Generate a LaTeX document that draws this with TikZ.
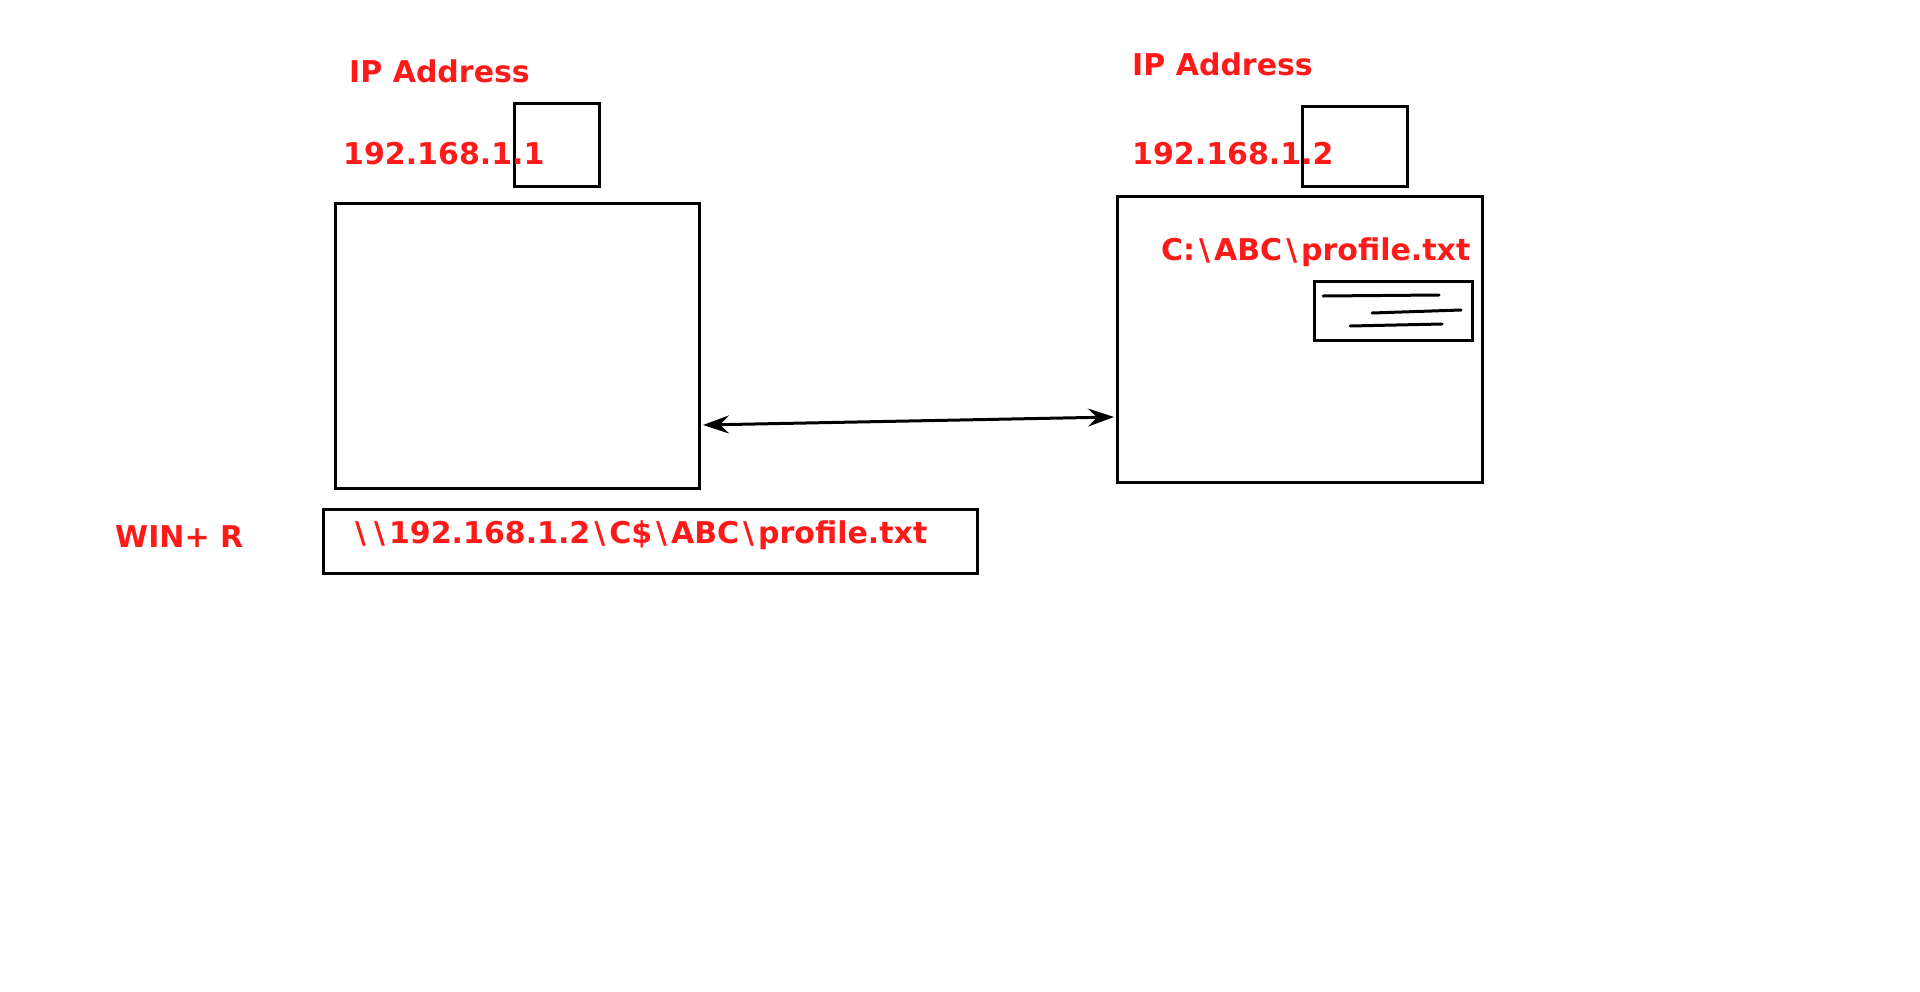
\documentclass[tikz,border=0pt]{standalone}
\usepackage{fontspec}
\setmainfont{DejaVu Sans}
\usepackage{tikz}
\usetikzlibrary{arrows.meta,positioning}
\definecolor{labelred}{RGB}{255,26,26}
\newcommand{\bsl}{\kern4pt\textbackslash\kern4pt}

\begin{document}
\begin{tikzpicture}[x=1pt,y=-1pt]%
                    \useasboundingbox (0,0) rectangle (1920,991); %%
                    \tikzstyle{box}=[draw,line width=3pt,inner sep=0pt]; %%
                    \tikzstyle{lbl}=[text=labelred,font=\fontsize{30}{36}\selectfont\bfseries,inner sep=0pt,anchor=base west]; %%
                    \begin{scope}
                        \tikzstyle{every node}=[box]; %%
                        \node[minimum width=363.5pt,minimum height=285.6pt] (pcA) at (517.25,345.8) {}; %%
                        \node[minimum width=85pt,minimum height=83pt] (ipA) at (556.5,144.5) {}; %%
                        \node[minimum width=365pt,minimum height=286.5pt] (pcB) at (1299.5,339.25) {}; %%
                        \node[minimum width=105pt,minimum height=80pt] (ipB) at (1354.5,146) {}; %%
                        \node[minimum width=158pt,minimum height=59pt] (file) at (1393,310.5) {}; %%
                        \node[minimum width=654pt,minimum height=64pt] (run) at (650,541) {}; %%
                    \end{scope}
                        \node[lbl] (ipAtitle) at (349,82) {IP Address}; %%
                        \node[lbl] (ipAaddr) at (343,164) {192.168.1.1}; %%
                        \node[lbl] (ipBtitle) at (1132,75) {IP Address}; %%
                        \node[lbl] (ipBaddr) at (1132,164) {192.168.1.2}; %%
                        \node[lbl] (filepath) at (1161,260) {C:\bsl ABC\bsl profile.txt}; %%
                        \node[lbl] (winr) at (115,547) {WIN+ R}; %%
                        \node[lbl] (unc) at (351,543) {\bsl\bsl 192.168.1.2\bsl C\$\bsl ABC\bsl profile.txt}; %%
                        \coordinate (linkA) at (703,425); %%
                        \coordinate (linkB) at (1114,417); %%
                        \draw[line width=3pt,{Stealth[length=26pt,width=18pt,inset=9pt]}-{Stealth[length=26pt,width=18pt,inset=9pt]}] (linkA)--(linkB); %%
                        \draw[line width=3pt,line cap=round] (1323,296)--(1439,295); %%
                        \draw[line width=3pt,line cap=round] (1372,313)--(1461,310); %%
                        \draw[line width=3pt,line cap=round] (1350,326)--(1442,324); %%
                    \end{tikzpicture}
\end{document}
